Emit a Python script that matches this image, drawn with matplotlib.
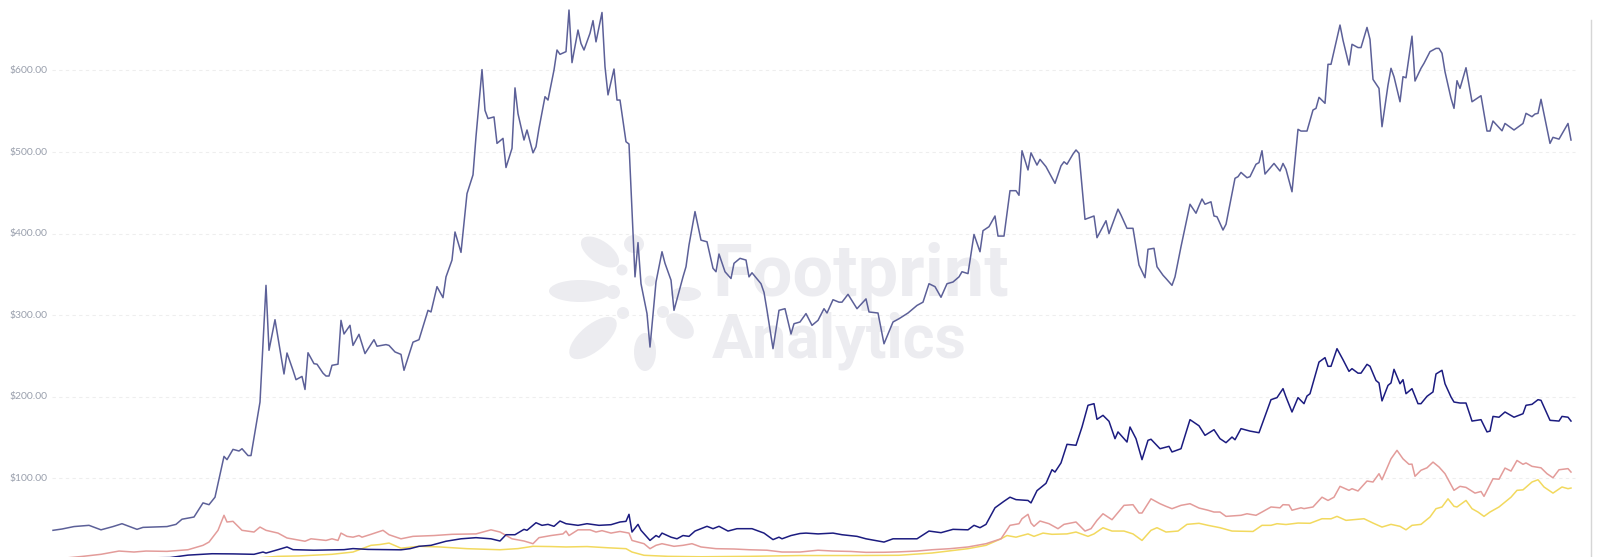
import numpy as np
import matplotlib.pyplot as plt
from matplotlib.patches import Ellipse

# dia (indice) y precio en dolares de cada serie
dias_a = [0, 3, 7, 12, 16, 20, 23, 28, 30, 38, 41, 43, 47, 50, 52, 54, 57, 58, 60, 62, 63, 65, 66, 69, 71, 72, 74,
          77, 78, 80, 81, 83, 84, 85, 87, 88, 90, 91, 92, 93, 95, 96, 97, 99, 100, 102, 104, 107, 108, 111, 112,
          114, 116, 117, 120, 122, 125, 126, 128, 130, 131, 133, 134, 136, 138, 140, 141, 143, 144, 145, 147, 148,
          150, 151, 153, 154, 155, 157, 158, 160, 161, 162, 164, 165, 167, 168, 169, 171, 172, 173, 175, 176, 177,
          179, 180, 181, 183, 184, 185, 187, 188, 189, 191, 192, 194, 195, 196, 198, 199, 201, 203, 204, 206, 207,
          210, 211, 212, 214, 216, 218, 220, 221, 222, 224, 226, 227, 229, 231, 232, 233, 235, 236, 237, 238, 240,
          242, 244, 246, 247, 249, 251, 253, 255, 257, 258, 260, 262, 263, 265, 268, 271, 272, 275, 277, 280, 282,
          285, 288, 290, 292, 294, 296, 298, 300, 302, 303, 305, 307, 309, 310, 312, 314, 315, 317, 319, 321, 322,
          323, 325, 326, 328, 329, 331, 334, 336, 337, 338, 340, 341, 342, 344, 347, 348, 351, 352, 355, 356, 358,
          360, 362, 364, 365, 367, 368, 370, 371, 373, 374, 376, 379, 381, 382, 383, 384, 386, 387, 388, 390, 391,
          394, 395, 396, 398, 399, 401, 402, 403, 404, 407, 409, 410, 411, 413, 415, 416, 418, 420, 421, 422, 424,
          425, 426, 429, 430, 432, 433, 435, 436, 438, 439, 440, 442, 443, 445, 446, 447, 449, 450, 451, 453, 454,
          456, 457, 459, 461, 462, 463, 464, 466, 467, 468, 469, 471, 473, 476, 478, 479, 480, 483, 484, 487, 490,
          491, 493, 494, 495, 496, 499, 500, 502, 505, 506]
precio_a = [36.4, 38, 41, 42.5, 37, 41, 44.5, 37.6, 40, 41, 43.7, 50, 52.7, 70, 67.8, 77, 127, 123, 135.6, 133.6,
            136.4, 128, 128, 193.6, 336.6, 257, 294.5, 228, 253.7, 232.5, 221, 225, 209, 254, 240.6, 240, 229,
            225.5, 225.5, 238.6, 240, 293.7, 277, 287.6, 263, 276.6, 253, 270, 262, 264, 263, 255, 252, 232.5, 267,
            270, 306, 304, 335, 321.5, 347, 367.6, 402, 377, 449, 472, 519, 601, 551, 541, 543, 510.6, 516.7, 481,
            504.5, 578.6, 547, 514.7, 527, 499, 506.5, 529, 567.8, 563.7, 600.5, 625, 619.7, 623, 674, 609.5, 649.5,
            633, 625, 645.5, 661, 635, 671, 604.5, 570, 601.7, 563.7, 563.7, 512.6, 509.8, 347, 389, 338.6, 302,
            261, 340.7, 377.8, 363.6, 343, 306, 347, 359.4, 386, 427, 392, 390, 357.5, 353.3, 375, 353.3, 345,
            363.6, 369.7, 367.6, 347, 352, 343, 338.6, 328, 306, 259, 306, 308, 277, 289.6, 291.7, 302, 287.6,
            293.7, 308, 302.7, 319, 316, 316, 325.6, 308, 320, 304, 302.7, 265, 291.7, 295.7, 302.7, 312, 316,
            338.6, 335, 322, 338.6, 340.7, 347, 353.3, 351, 399, 377.8, 403.6, 408.5, 421.6, 397, 397, 452.6,
            452.6, 447, 501.6, 478, 499, 484, 491, 482, 461.6, 483, 488, 485, 497.5, 502.5, 498.4, 417.5, 421.6,
            395, 415.8, 400, 430, 422.8, 406.5, 406.5, 361.5, 346, 380.8, 382, 359.4, 349, 345, 336.6, 347, 384,
            436, 425, 434, 442.4, 436, 439, 421.6, 420.7, 404.4, 411.4, 467.8, 469.8, 475, 468.5, 469.8, 485, 487,
            501.6, 473, 486, 476.7, 486, 478.8, 451.3, 527.8, 525.7, 525.7, 551.5, 553.5, 567, 559.7, 607.5, 607.5,
            655.6, 637, 606.6, 632, 628, 628, 652.7, 638, 589, 578, 531, 582, 602.6, 592.3, 561.6, 592.3, 591, 642,
            587, 602.6, 608.7, 623, 627, 627, 621, 598.4, 565.8, 553.5, 587.4, 578, 603.3, 561.6, 569, 525.7, 525.7,
            538, 526, 535, 527, 535, 547.4, 543.3, 546.6, 547.4, 564.6, 510.6, 518, 515.8, 535, 514.7]

dias_b = [0, 22, 39, 45, 53, 60, 67, 70, 71, 75, 78, 80, 87, 93, 97, 100, 105, 116, 119, 122, 126, 128, 131, 136,
          141, 146, 149, 151, 154, 157, 158, 161, 163, 165, 167, 169, 171, 175, 178, 182, 186, 189, 191, 192, 193,
          195, 196, 199, 201, 202, 203, 206, 208, 210, 212, 214, 216, 218, 220, 222, 225, 228, 233, 237, 240, 242,
          243, 246, 249, 251, 255, 260, 263, 268, 271, 277, 280, 288, 292, 296, 300, 305, 307, 309, 311, 314, 317,
          319, 321, 325, 326, 328, 331, 333, 334, 336, 338, 341, 343, 345, 347, 348, 350, 352, 354, 355, 358, 359,
          361, 363, 365, 366, 369, 372, 373, 376, 379, 382, 384, 387, 389, 391, 393, 394, 396, 399, 402, 406, 408,
          410, 411, 413, 415, 417, 418, 419, 422, 424, 425, 426, 428, 430, 432, 433, 435, 436, 438, 439, 441, 442,
          443, 445, 446, 447, 449, 450, 451, 453, 455, 456, 458, 460, 461, 463, 464, 466, 467, 469, 471, 473, 476,
          478, 479, 480, 482, 484, 487, 490, 491, 493, 495, 496, 499, 502, 503, 505, 506]
precio_b = [1.5, 2, 3, 6, 7.7, 7.5, 7, 9.8, 8.5, 12.7, 16, 12.7, 12, 12.5, 12.7, 14, 13, 12.5, 13.9, 16.8, 18, 20,
            23, 26, 27.4, 26, 23.3, 31, 31, 37.6, 36.4, 45.7, 42.5, 43.7, 41.3, 47.8, 44.5, 42.5, 44.5, 42.5, 43.3,
            46.6, 47.4, 56, 34.3, 43.7, 36.4, 24, 30, 28, 33, 28, 26, 30, 29, 35.5, 38.4, 41.3, 38.4, 41.3, 35.5,
            38.4, 38.4, 33, 25, 28, 26, 30, 32.5, 33, 32, 33, 31, 29, 26, 22, 26, 26, 35.5, 33.5, 37.6, 37, 42.5,
            39.6, 43.7, 64, 72, 77, 74, 73, 70, 85, 94, 110.7, 107.8, 119, 141.8, 140.6, 163, 189.6, 191.6, 172.4,
            177.3, 170, 148.7, 157, 144.6, 163, 148.7, 123, 146.7, 148, 136.4, 139.3, 132.4, 136.4, 172, 164.5,
            152.8, 159.7, 148.7, 143.8, 150.7, 147.4, 161, 158, 156, 196.5, 199, 210, 199.8, 181.4, 199, 191.6,
            201, 203.8, 242.6, 248, 237.4, 237.4, 259, 245.5, 231.2, 234.5, 229, 229, 239.8, 237.4, 220, 217, 195,
            214, 217, 233.7, 216, 221, 203.8, 210, 191.6, 191.6, 200.6, 206, 228, 232.5, 216, 199.8, 193.6, 192.4,
            192.4, 170.3, 172, 157, 158, 176, 175, 181.4, 175, 179.3, 189.6, 190.8, 196.5, 195.7, 171.2, 170.3,
            176, 175, 170.3]

dias_c = [0, 10, 16, 22, 27, 31, 38, 45, 50, 52, 55, 57, 58, 60, 63, 67, 69, 71, 75, 78, 81, 84, 86, 91, 93, 95,
          96, 98, 100, 102, 103, 106, 110, 112, 116, 120, 127, 133, 141, 146, 149, 153, 157, 160, 162, 166, 170,
          171, 172, 175, 179, 181, 183, 186, 189, 192, 193, 197, 199, 201, 203, 207, 210, 213, 216, 221, 227, 232,
          238, 243, 249, 255, 260, 266, 271, 277, 282, 288, 293, 299, 305, 311, 316, 319, 322, 323, 325, 326, 327,
          329, 332, 335, 337, 341, 344, 346, 348, 350, 353, 357, 360, 362, 363, 366, 369, 371, 373, 376, 379, 382,
          385, 387, 389, 391, 396, 398, 401, 403, 406, 409, 410, 412, 413, 416, 417, 420, 423, 425, 427, 429, 432,
          433, 435, 438, 440, 442, 443, 446, 448, 450, 452, 453, 454, 456, 458, 460, 462, 464, 467, 469, 471, 474,
          476, 477, 480, 482, 484, 486, 488, 490, 491, 493, 496, 498, 500, 502, 505, 506]
precio_c = [1, 4.5, 7, 11, 9.8, 11, 10.6, 12.6, 18, 22, 36.4, 54.8, 46.6, 47.4, 36.4, 34.3, 40.4, 36.4, 33, 27, 25,
            23, 26, 24, 26, 24, 33, 29, 28, 30, 28, 31.5, 36.4, 31, 26, 29, 30, 31.5, 32, 37, 34.3, 26, 23.3, 20,
            27.4, 30, 32, 35.5, 30, 37, 37, 34.3, 36, 33, 35, 33, 24, 20, 13.9, 18, 20, 16.8, 18, 20, 16, 13.9,
            13.5, 12.6, 12, 9.8, 9.8, 12, 11, 10.5, 9.4, 9.5, 10, 11, 12.6, 13.9, 16, 20, 26, 42.5, 44.5, 50.6, 56,
            45.3, 41.3, 47.8, 44.5, 38.4, 43.7, 46.6, 35.5, 38.4, 48.6, 56.7, 49.4, 67, 67.8, 57.6, 57.6, 75, 69,
            65.8, 62.9, 67, 69, 63.7, 61, 58.8, 58.8, 53.5, 54.8, 56.7, 54.8, 58.8, 65, 64, 67.8, 67.5, 61, 64, 63,
            65, 77, 73, 77, 90.3, 85.4, 87.4, 84.6, 96.8, 95.6, 105.8, 98.4, 124, 134.4, 124, 117.3, 117.5, 102.6,
            110, 113, 120, 114, 105.8, 85.4, 90.3, 89, 82, 84, 78, 99.6, 99, 112.7, 109, 122, 117.3, 119, 114.8,
            113, 105.8, 100.8, 110.6, 112, 107.8]

dias_d = [0, 49, 66, 75, 82, 93, 100, 106, 109, 112, 116, 122, 129, 138, 149, 155, 160, 166, 171, 178, 185, 191,
          193, 197, 205, 216, 232, 249, 266, 282, 293, 305, 311, 316, 318, 321, 325, 327, 330, 333, 338, 341, 345,
          347, 350, 353, 357, 360, 363, 366, 368, 371, 375, 378, 382, 385, 389, 393, 400, 403, 406, 408, 411, 415,
          419, 423, 426, 428, 431, 437, 440, 443, 446, 449, 451, 453, 456, 459, 461, 463, 465, 467, 468, 471, 473,
          475, 477, 479, 482, 486, 488, 490, 493, 495, 497, 500, 503, 505, 506]
precio_d = [0.5, 1, 2, 4.5, 5, 7, 9.8, 18, 19, 20.8, 14.5, 16.8, 16, 13.9, 12.6, 14, 16.8, 16.5, 16, 16.5, 15, 13.9,
            9.8, 5.8, 4.5, 4, 4.5, 5.5, 5.5, 5.8, 8.6, 13.9, 18, 26, 30, 28, 32, 29, 33, 31.5, 32, 34.3, 29, 32,
            39.6, 35.5, 35.5, 32, 24, 36.4, 39.6, 34.3, 35.5, 43.7, 45, 42.5, 39.6, 35.5, 35, 42.5, 42.5, 44.5,
            43.5, 45.3, 45, 50.6, 50.5, 53.5, 48.6, 50.6, 45.3, 40.4, 43.7, 41.3, 37, 42.5, 43.7, 52.7, 62.9, 65,
            75, 65.8, 65, 73, 62.9, 58.8, 53.5, 58.8, 65, 77, 85.4, 86, 95.6, 98.4, 89.5, 82, 89.5, 87.4, 88.2]

marcas = [100, 200, 300, 400, 500, 600]
etiquetas = ['$100.00', '$200.00', '$300.00', '$400.00', '$500.00', '$600.00']

fig = plt.figure(figsize=(16, 5.57), dpi=100)
fig.patch.set_facecolor('white')

# marca de agua (fondo)
fondo = fig.add_axes([0, 0, 1, 1], zorder=0)
fondo.set_xlim(0, 1600)
fondo.set_ylim(557, 0)
fondo.axis('off')
gris = '#ececf0'
petalos = [(580, 291, 62, 22, 0), (600, 252, 44, 22, 35), (634, 244, 20, 18, 0), (686, 294, 30, 14, 0),
           (680, 326, 32, 20, 40), (645, 352, 22, 38, 0), (593, 338, 58, 26, -40), (613, 292, 14, 14, 0),
           (623, 313, 12, 12, 0), (663, 312, 12, 12, 0), (650, 281, 11, 11, 0), (622, 270, 11, 11, 0)]
for cx, cy, w, h, ang in petalos:
    fondo.add_patch(Ellipse((cx, cy), w, h, angle=ang, color=gris, lw=0))
fondo.text(712, 296, 'Footprint', fontsize=52, fontweight='bold', family='Roboto', color=gris, va='baseline')
fondo.text(712, 358, 'Analytics', fontsize=44, fontweight='bold', family='Roboto', color=gris, va='baseline')
fondo.plot([1591, 1591], [20, 557], color='#d6d6d6', lw=1)

ax = fig.add_axes([0, 0, 1, 1], zorder=1)
ax.patch.set_alpha(0)
ax.set_xlim(-53 / 3, 1547 / 3)
ax.set_ylim(3.7, 686.3)
ax.axis('off')

for m, e in zip(marcas, etiquetas):
    ax.hlines(m, -0.3, 507.3, colors='#eeeeee', linestyles=(0, (3, 3)), lw=0.8, zorder=1)
    ax.text(10 / 1600, m, e, transform=ax.get_yaxis_transform(), fontsize=7.5, family='Lato',
            color='#9aa0ad', va='center', ha='left')

ax.plot(dias_d, precio_d, color='#f2d95e', lw=1.1, zorder=2)
ax.plot(dias_c, precio_c, color='#e39c9a', lw=1.1, zorder=3)
ax.plot(dias_b, precio_b, color='#1c1c80', lw=1.1, zorder=4)
ax.plot(dias_a, precio_a, color='#5c6098', lw=1.1, zorder=5)

plt.savefig('out.png', dpi=100)
